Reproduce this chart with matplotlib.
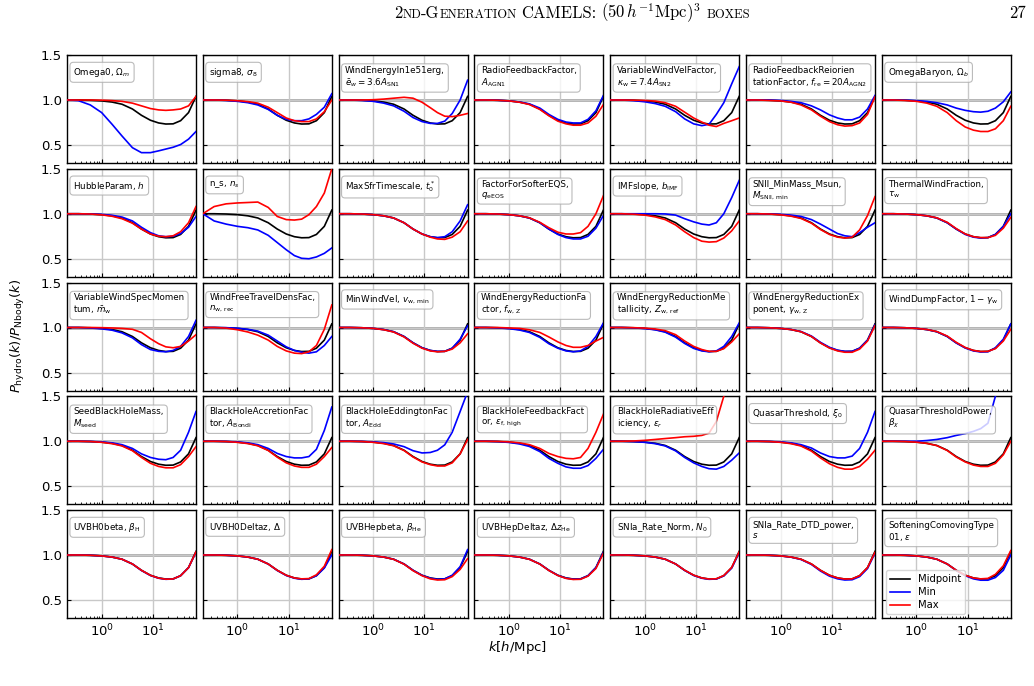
import matplotlib
matplotlib.use('Agg')
import matplotlib.pyplot as plt
from matplotlib.ticker import FixedLocator, LogLocator, NullFormatter

# ---------------- data ----------------
k = [0.21, 0.35, 0.6, 1.0, 1.6, 2.5, 4, 6, 9, 13, 18, 25, 35, 50, 70]
midpoint = [1.0, 1.0, 0.997, 0.99, 0.977, 0.953, 0.9, 0.83, 0.775, 0.745, 0.733, 0.735, 0.77, 0.86, 1.04]

omega0_min = [1.0, 0.993, 0.945, 0.86, 0.73, 0.6, 0.47, 0.415, 0.415, 0.435, 0.455, 0.475, 0.505, 0.565, 0.65]
omega0_max = [1.0, 1.0, 1.0, 0.998, 0.993, 0.985, 0.965, 0.935, 0.905, 0.89, 0.885, 0.89, 0.9, 0.935, 1.04]
sigma8_min = [1.0, 1.0, 0.995, 0.985, 0.97, 0.945, 0.895, 0.83, 0.785, 0.77, 0.77, 0.79, 0.84, 0.92, 1.07]
sigma8_max = [1.0, 1.0, 0.998, 0.992, 0.982, 0.965, 0.92, 0.86, 0.8, 0.77, 0.76, 0.76, 0.79, 0.87, 1.0]
wenergy_min = [1.0, 1.0, 0.995, 0.985, 0.965, 0.935, 0.875, 0.805, 0.76, 0.74, 0.74, 0.765, 0.85, 1.0, 1.22]
wenergy_max = [1.0, 1.0, 1.0, 1.003, 1.01, 1.02, 1.03, 1.02, 0.975, 0.915, 0.86, 0.82, 0.815, 0.83, 0.85]
radio_min = [1.0, 1.0, 0.997, 0.99, 0.978, 0.957, 0.91, 0.84, 0.785, 0.755, 0.745, 0.745, 0.785, 0.88, 1.05]
radio_max = [1.0, 1.0, 0.997, 0.99, 0.975, 0.95, 0.895, 0.825, 0.765, 0.735, 0.72, 0.72, 0.745, 0.82, 0.95]
wvel_min = [1.0, 1.0, 0.993, 0.98, 0.96, 0.93, 0.87, 0.79, 0.735, 0.715, 0.73, 0.84, 0.97, 1.18, 1.37]
wvel_max = [1.0, 1.0, 0.998, 0.995, 0.988, 0.97, 0.93, 0.865, 0.8, 0.755, 0.72, 0.705, 0.74, 0.77, 0.8]
reorient_min = [1.0, 1.0, 1.0, 0.995, 0.985, 0.97, 0.935, 0.89, 0.835, 0.8, 0.78, 0.78, 0.81, 0.9, 1.05]
reorient_max = [1.0, 1.0, 0.995, 0.99, 0.975, 0.945, 0.89, 0.82, 0.76, 0.725, 0.71, 0.715, 0.745, 0.84, 1.035]
omegab_min = [1.0, 1.0, 0.998, 0.993, 0.985, 0.97, 0.945, 0.91, 0.885, 0.87, 0.865, 0.875, 0.91, 0.98, 1.09]
omegab_max = [1.0, 1.0, 0.995, 0.985, 0.965, 0.93, 0.86, 0.77, 0.7, 0.665, 0.65, 0.65, 0.68, 0.77, 0.93]

hubble_min = [1.0, 1.0, 0.998, 0.993, 0.983, 0.963, 0.92, 0.85, 0.79, 0.755, 0.745, 0.75, 0.78, 0.85, 0.97]
hubble_max = [1.0, 1.0, 0.997, 0.988, 0.972, 0.945, 0.895, 0.83, 0.775, 0.75, 0.745, 0.755, 0.8, 0.9, 1.08]
ns_min = [1.0, 0.92, 0.885, 0.86, 0.845, 0.82, 0.76, 0.68, 0.6, 0.535, 0.505, 0.5, 0.52, 0.56, 0.62]
ns_max = [1.0, 1.08, 1.11, 1.12, 1.125, 1.13, 1.07, 0.97, 0.935, 0.93, 0.94, 0.99, 1.08, 1.23, 1.5]
maxsfr_min = [1.0, 1.0, 0.997, 0.99, 0.977, 0.953, 0.9, 0.83, 0.775, 0.745, 0.735, 0.745, 0.8, 0.92, 1.1]
maxsfr_max = [1.0, 1.0, 0.997, 0.99, 0.977, 0.953, 0.9, 0.83, 0.775, 0.74, 0.72, 0.715, 0.74, 0.8, 0.92]
softer_min = [1.0, 1.0, 0.997, 0.99, 0.977, 0.953, 0.9, 0.83, 0.77, 0.735, 0.72, 0.72, 0.75, 0.84, 0.98]
softer_max = [1.0, 1.0, 0.997, 0.99, 0.977, 0.955, 0.905, 0.845, 0.795, 0.775, 0.775, 0.79, 0.86, 1.0, 1.2]
imf_min = [1.0, 1.0, 1.0, 1.0, 1.0, 0.998, 0.985, 0.945, 0.91, 0.885, 0.875, 0.9, 1.0, 1.18, 1.37]
imf_max = [1.0, 1.0, 0.995, 0.985, 0.965, 0.935, 0.875, 0.8, 0.735, 0.695, 0.685, 0.69, 0.73, 0.81, 0.92]
snii_min = [1.0, 1.0, 0.998, 0.993, 0.985, 0.97, 0.935, 0.885, 0.83, 0.78, 0.755, 0.745, 0.79, 0.85, 0.9]
snii_max = [1.0, 1.0, 0.997, 0.988, 0.973, 0.948, 0.895, 0.825, 0.77, 0.74, 0.73, 0.74, 0.82, 0.98, 1.19]
thermal_min = [1.0, 1.0, 0.997, 0.99, 0.977, 0.953, 0.9, 0.83, 0.77, 0.74, 0.73, 0.735, 0.77, 0.86, 1.0]
thermal_max = [1.0, 1.0, 0.997, 0.99, 0.977, 0.955, 0.905, 0.835, 0.775, 0.745, 0.735, 0.735, 0.76, 0.84, 0.96]

wspec_min = [1.0, 1.0, 0.995, 0.985, 0.97, 0.94, 0.885, 0.81, 0.755, 0.735, 0.73, 0.745, 0.79, 0.9, 1.08]
wspec_max = [1.0, 1.0, 1.0, 0.998, 0.995, 0.99, 0.98, 0.945, 0.875, 0.82, 0.785, 0.775, 0.79, 0.85, 0.92]
wfree_min = [1.0, 1.0, 0.998, 0.992, 0.98, 0.96, 0.915, 0.85, 0.785, 0.745, 0.725, 0.715, 0.73, 0.8, 0.9]
wfree_max = [1.0, 1.0, 0.993, 0.975, 0.95, 0.915, 0.86, 0.79, 0.74, 0.715, 0.71, 0.73, 0.8, 0.98, 1.25]
minwv_min = [1.0, 1.0, 0.997, 0.99, 0.977, 0.953, 0.9, 0.83, 0.775, 0.745, 0.735, 0.735, 0.77, 0.87, 1.02]
minwv_max = [1.0, 1.0, 0.997, 0.99, 0.975, 0.95, 0.895, 0.825, 0.77, 0.74, 0.73, 0.735, 0.76, 0.83, 0.93]
wred_min = [1.0, 1.0, 0.996, 0.987, 0.972, 0.945, 0.89, 0.82, 0.77, 0.74, 0.73, 0.74, 0.79, 0.9, 1.05]
wred_max = [1.0, 1.0, 1.0, 0.995, 0.99, 0.975, 0.945, 0.895, 0.84, 0.8, 0.78, 0.78, 0.8, 0.85, 0.89]
wmet_min = [1.0, 1.0, 0.996, 0.988, 0.974, 0.948, 0.893, 0.823, 0.768, 0.74, 0.73, 0.74, 0.79, 0.9, 1.05]
wmet_max = [1.0, 1.0, 0.998, 0.993, 0.983, 0.965, 0.92, 0.85, 0.79, 0.755, 0.735, 0.735, 0.765, 0.84, 0.93]
wexp_min = [1.0, 1.0, 0.997, 0.99, 0.978, 0.955, 0.905, 0.835, 0.78, 0.748, 0.735, 0.735, 0.77, 0.86, 1.03]
wexp_max = [1.0, 1.0, 0.997, 0.99, 0.977, 0.953, 0.9, 0.828, 0.772, 0.74, 0.725, 0.725, 0.76, 0.85, 1.02]
wdump_min = [1.0, 1.0, 0.997, 0.99, 0.977, 0.953, 0.9, 0.828, 0.772, 0.74, 0.728, 0.73, 0.775, 0.87, 1.04]
wdump_max = [1.0, 1.0, 0.997, 0.99, 0.978, 0.955, 0.905, 0.835, 0.778, 0.745, 0.733, 0.735, 0.765, 0.85, 0.98]

seed_min = [1.0, 1.0, 0.998, 0.993, 0.982, 0.962, 0.92, 0.86, 0.82, 0.8, 0.795, 0.82, 0.9, 1.1, 1.33]
seed_max = [1.0, 1.0, 0.997, 0.988, 0.973, 0.948, 0.895, 0.82, 0.755, 0.72, 0.705, 0.705, 0.74, 0.83, 0.94]
bhacc_min = [1.0, 1.0, 0.998, 0.993, 0.982, 0.962, 0.92, 0.865, 0.83, 0.815, 0.815, 0.83, 0.91, 1.12, 1.38]
bhacc_max = [1.0, 1.0, 0.997, 0.988, 0.974, 0.95, 0.897, 0.823, 0.76, 0.725, 0.71, 0.71, 0.745, 0.83, 0.93]
bhedd_min = [1.0, 1.0, 0.998, 0.993, 0.985, 0.97, 0.94, 0.895, 0.87, 0.875, 0.9, 0.96, 1.1, 1.33, 1.55]
bhedd_max = [1.0, 1.0, 0.997, 0.988, 0.974, 0.95, 0.897, 0.825, 0.77, 0.74, 0.725, 0.725, 0.76, 0.86, 1.02]
bhfb_min = [1.0, 1.0, 0.996, 0.987, 0.97, 0.942, 0.885, 0.81, 0.755, 0.715, 0.7, 0.7, 0.73, 0.81, 0.91]
bhfb_max = [1.0, 1.0, 0.998, 0.993, 0.982, 0.962, 0.92, 0.865, 0.83, 0.81, 0.805, 0.82, 0.92, 1.1, 1.3]
bhrad_min = [1.0, 1.0, 0.996, 0.988, 0.973, 0.948, 0.893, 0.82, 0.76, 0.72, 0.695, 0.69, 0.72, 0.79, 0.87]
bhrad_max = [1.0, 1.0, 1.003, 1.01, 1.02, 1.03, 1.04, 1.05, 1.055, 1.065, 1.09, 1.22, 1.5, 1.9, 2.3]
quasar_min = [1.0, 1.0, 0.998, 0.993, 0.982, 0.962, 0.925, 0.87, 0.83, 0.815, 0.815, 0.835, 0.92, 1.1, 1.33]
quasar_max = [1.0, 1.0, 0.997, 0.988, 0.973, 0.947, 0.89, 0.815, 0.75, 0.71, 0.69, 0.69, 0.72, 0.8, 0.9]
qpow_min = [1.0, 1.0, 1.0, 1.0, 1.008, 1.02, 1.04, 1.065, 1.085, 1.11, 1.14, 1.2, 1.5, 2.0, 2.5]
qpow_max = [1.0, 1.0, 0.997, 0.99, 0.976, 0.952, 0.897, 0.825, 0.77, 0.735, 0.72, 0.72, 0.755, 0.85, 1.0]

uvbh0beta_min = [1.0, 1.0, 0.997, 0.99, 0.977, 0.953, 0.9, 0.828, 0.772, 0.742, 0.73, 0.733, 0.77, 0.86, 1.03]
uvbh0beta_max = [1.0, 1.0, 0.997, 0.99, 0.977, 0.953, 0.9, 0.83, 0.774, 0.743, 0.731, 0.734, 0.77, 0.86, 1.035]
uvbh0dz_min = [1.0, 1.0, 0.997, 0.99, 0.977, 0.953, 0.9, 0.828, 0.772, 0.742, 0.73, 0.735, 0.77, 0.855, 1.0]
uvbh0dz_max = [1.0, 1.0, 0.997, 0.99, 0.977, 0.953, 0.9, 0.83, 0.775, 0.745, 0.735, 0.738, 0.78, 0.875, 1.06]
uvbhepbeta_min = [1.0, 1.0, 0.997, 0.99, 0.977, 0.953, 0.9, 0.83, 0.774, 0.742, 0.73, 0.735, 0.775, 0.87, 1.06]
uvbhepbeta_max = [1.0, 1.0, 0.997, 0.99, 0.977, 0.952, 0.898, 0.826, 0.77, 0.735, 0.722, 0.725, 0.76, 0.84, 0.96]
uvbhepdz_min = [1.0, 1.0, 0.997, 0.99, 0.977, 0.953, 0.9, 0.83, 0.774, 0.743, 0.731, 0.734, 0.77, 0.86, 1.03]
uvbhepdz_max = [1.0, 1.0, 0.997, 0.99, 0.977, 0.952, 0.899, 0.828, 0.772, 0.74, 0.728, 0.73, 0.765, 0.85, 1.02]
sniarate_min = [1.0, 1.0, 0.997, 0.99, 0.977, 0.953, 0.9, 0.829, 0.773, 0.742, 0.73, 0.733, 0.768, 0.855, 1.025]
sniarate_max = [1.0, 1.0, 0.997, 0.99, 0.977, 0.953, 0.9, 0.831, 0.776, 0.745, 0.733, 0.736, 0.772, 0.862, 1.035]
sniadtd_min = [1.0, 1.0, 0.997, 0.99, 0.976, 0.95, 0.895, 0.822, 0.765, 0.735, 0.722, 0.725, 0.76, 0.85, 1.02]
sniadtd_max = [1.0, 1.0, 0.997, 0.99, 0.977, 0.953, 0.9, 0.83, 0.775, 0.745, 0.733, 0.735, 0.77, 0.86, 1.03]
soft_min = [1.0, 1.0, 0.997, 0.99, 0.977, 0.953, 0.9, 0.828, 0.77, 0.735, 0.72, 0.72, 0.75, 0.83, 1.0]
soft_max = [1.0, 1.0, 0.997, 0.99, 0.977, 0.953, 0.9, 0.83, 0.775, 0.745, 0.735, 0.74, 0.785, 0.88, 1.05]

panel_labels = [
    "Omega0, $\\Omega_m$", "sigma8, $\\sigma_8$",
    "WindEnergyIn1e51erg,\n$\\bar{e}_w = 3.6A_{\\rm SN1}$",
    "RadioFeedbackFactor,\n$A_{\\rm AGN1}$",
    "VariableWindVelFactor,\n$\\kappa_{\\rm w} = 7.4A_{\\rm SN2}$",
    "RadioFeedbackReiorien\ntationFactor, $f_{\\rm re} = 20A_{\\rm AGN2}$",
    "OmegaBaryon, $\\Omega_b$",
    "HubbleParam, $h$", "n_s, $n_s$", "MaxSfrTimescale, $t_0^*$",
    "FactorForSofterEQS,\n$q_{\\rm eEOS}$", "IMFslope, $b_{\\rm IMF}$",
    "SNII_MinMass_Msun,\n$M_{\\rm SNII,\\,min}$", "ThermalWindFraction,\n$\\tau_{\\rm w}$",
    "VariableWindSpecMomen\ntum, $\\bar{m}_{\\rm w}$",
    "WindFreeTravelDensFac,\n$n_{\\rm w,\\,rec}$",
    "MinWindVel, $v_{\\rm w,\\,min}$",
    "WindEnergyReductionFa\nctor, $f_{\\rm w,\\,Z}$",
    "WindEnergyReductionMe\ntallicity, $Z_{\\rm w,\\,ref}$",
    "WindEnergyReductionEx\nponent, $\\gamma_{\\rm w,\\,Z}$",
    "WindDumpFactor, $1-\\gamma_{\\rm w}$",
    "SeedBlackHoleMass,\n$M_{\\rm seed}$",
    "BlackHoleAccretionFac\ntor, $A_{\\rm Bondi}$",
    "BlackHoleEddingtonFac\ntor, $A_{\\rm Edd}$",
    "BlackHoleFeedbackFact\nor, $\\epsilon_{\\rm f,\\,high}$",
    "BlackHoleRadiativeEff\niciency, $\\epsilon_r$",
    "QuasarThreshold, $\\xi_0$",
    "QuasarThresholdPower,\n$\\beta_\\chi$",
    "UVBH0beta, $\\beta_{\\rm H}$", "UVBH0Deltaz, $\\Delta$",
    "UVBHepbeta, $\\beta_{\\rm He}$", "UVBHepDeltaz, $\\Delta z_{\\rm He}$",
    "SNIa_Rate_Norm, $N_0$", "SNIa_Rate_DTD_power,\n$s$",
    "SofteningComovingType\n01, $\\epsilon$",
]

panel_min = [omega0_min, sigma8_min, wenergy_min, radio_min, wvel_min, reorient_min, omegab_min,
             hubble_min, ns_min, maxsfr_min, softer_min, imf_min, snii_min, thermal_min,
             wspec_min, wfree_min, minwv_min, wred_min, wmet_min, wexp_min, wdump_min,
             seed_min, bhacc_min, bhedd_min, bhfb_min, bhrad_min, quasar_min, qpow_min,
             uvbh0beta_min, uvbh0dz_min, uvbhepbeta_min, uvbhepdz_min, sniarate_min, sniadtd_min, soft_min]
panel_max = [omega0_max, sigma8_max, wenergy_max, radio_max, wvel_max, reorient_max, omegab_max,
             hubble_max, ns_max, maxsfr_max, softer_max, imf_max, snii_max, thermal_max,
             wspec_max, wfree_max, minwv_max, wred_max, wmet_max, wexp_max, wdump_max,
             seed_max, bhacc_max, bhedd_max, bhfb_max, bhrad_max, quasar_max, qpow_max,
             uvbh0beta_max, uvbh0dz_max, uvbhepbeta_max, uvbhepdz_max, sniarate_max, sniadtd_max, soft_max]

series_names = ["Midpoint", "Min", "Max"]

# ---------------- figure ----------------
W, H = 1034, 686
fig = plt.figure(figsize=(W / 100, H / 100), dpi=100)

left0, colstep, aw = 67, 135.8, 129
top0, rowstep, ah = 55, 113.75, 108

for i in range(35):
    r, c = divmod(i, 7)
    x0 = left0 + c * colstep
    y0 = top0 + r * rowstep
    ax = fig.add_axes([x0 / W, 1 - (y0 + ah) / H, aw / W, ah / H])
    ax.set_xscale('log')
    ax.set_xlim(0.21, 70)
    ax.set_ylim(0.3, 1.5)
    ax.xaxis.set_major_locator(FixedLocator([1, 10]))
    ax.xaxis.set_minor_locator(LogLocator(base=10, subs=[2, 3, 4, 5, 6, 7, 8, 9], numticks=20))
    ax.xaxis.set_minor_formatter(NullFormatter())
    ax.set_yticks([0.5, 1.0, 1.5])
    ax.grid(True, which='major', color='#c8c8c8', lw=1.0, zorder=0)
    ax.axhline(1.0, color='#999999', lw=1.8, zorder=1)
    ax.tick_params(which='both', direction='in', labelsize=9.5)
    ax.tick_params(which='major', length=3)
    ax.tick_params(which='minor', length=1.8)
    for s in ax.spines.values():
        s.set_linewidth(1.0)
    if c != 0:
        ax.tick_params(labelleft=False)
    else:
        ax.set_yticklabels(["0.5", "1.0", "1.5"])
    if r != 4:
        ax.tick_params(labelbottom=False)
    ax.plot(k, midpoint, color='black', lw=1.2, label=series_names[0], zorder=3)
    ax.plot(k, panel_min[i], color='blue', lw=1.2, label=series_names[1], zorder=3)
    ax.plot(k, panel_max[i], color='red', lw=1.2, label=series_names[2], zorder=3)
    ax.text(0.05, 0.9, panel_labels[i], transform=ax.transAxes, fontsize=6.3,
            ha='left', va='top', zorder=5, linespacing=1.15,
            bbox=dict(boxstyle='round,pad=0.4', facecolor='white', edgecolor='#aaaaaa',
                      alpha=0.8, lw=0.8))
    if i == 34:
        ax.legend(loc='lower left', fontsize=7.2, framealpha=0.8, handlelength=2.0,
                  borderaxespad=0.4, labelspacing=0.3, borderpad=0.4)

fig.text(517 / W, 1 - 648 / H, r"$k[h/{\rm Mpc}]$", ha='center', va='center', fontsize=9.5)
fig.text(18 / W, 1 - 336 / H, r"$P_{\rm hydro}(k)/P_{\rm Nbody}(k)$", ha='center', va='center',
         rotation=90, fontsize=9.5)

# header with small-caps imitation
renderer = fig.canvas.get_renderer()
F, f = 12, 9.0
parts = [("2", F), ("ND", f), ("-G", F), ("ENERATION", f), (None, 4.5), ("CAMELS:", F), (None, 4.5),
         (r"$(50\,h^{-1}{\rm Mpc})^3$", F), (None, 5.5), ("BOXES", f)]
ybase = 1 - 18 / H
items = []
for s, fs in parts:
    if s is None:
        items.append((None, fs))
        continue
    t = fig.text(0, ybase, s, fontsize=fs, family='cmr10', math_fontfamily='cm',
                 ha='left', va='baseline')
    items.append((t, t.get_window_extent(renderer).width))
total = sum(w for _, w in items)
x = 572 - total / 2
for t, w in items:
    if t is not None:
        t.set_x(x / W)
    x += w
fig.text(1026 / W, ybase, "27", fontsize=F, family='cmr10', ha='right', va='baseline')

fig.savefig('out.png', dpi=100)
